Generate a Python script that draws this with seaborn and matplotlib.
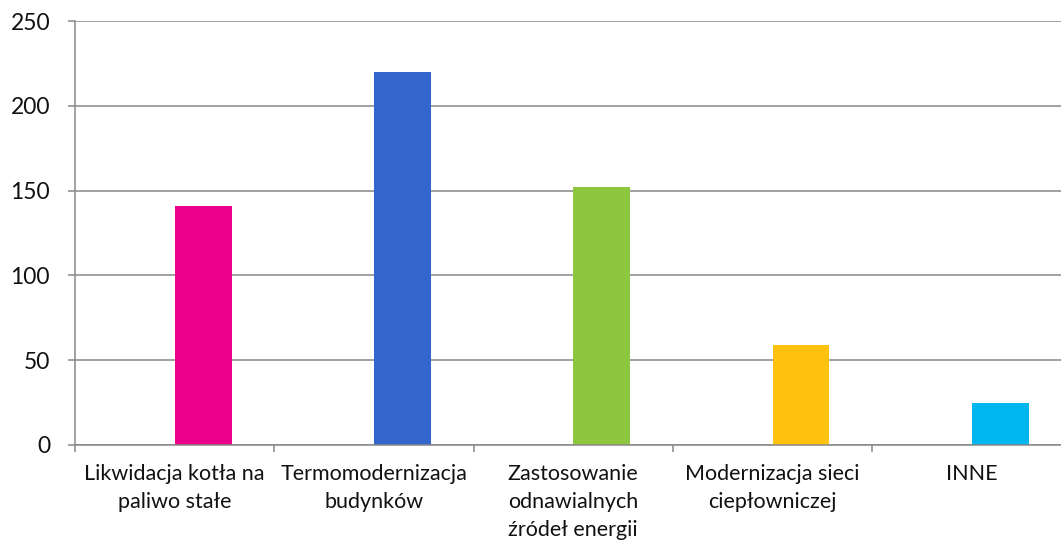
import matplotlib
matplotlib.use("Agg")
import matplotlib.pyplot as plt
import seaborn as sns
import pandas as pd
import numpy as np

categories = ["Likwidacja kotła na\npaliwo stałe", "Termomodernizacja\nbudynków",
              "Zastosowanie\nodnawialnych\nźródeł energii", "Modernizacja sieci\nciepłowniczej", "INNE"]
values = [141, 220, 152, 59, 25]
colors = ["#EC008C", "#3366CC", "#8DC63F", "#FFC20E", "#00B6EF"]
yticks = [0, 50, 100, 150, 200, 250]

sns.set_theme(style="white")
plt.rcParams['font.family'] = ['Lato', 'DejaVu Sans']

fig = plt.figure(figsize=(10.61, 5.46), dpi=100)
ax = fig.add_axes([0.0707, 0.185, 0.9392, 0.7765])

df = pd.DataFrame({"cat": categories, "val": values})
sns.barplot(data=df, x="cat", y="val", hue="cat", palette=colors, legend=False,
            width=2/7, saturation=1, ax=ax)
# shift bars to second slot of two-series layout
for p in ax.patches:
    p.set_x(p.get_x() + 1/7)
    p.set_linewidth(0)

grid_c = "#888888"
ax.set_ylim(0, 250)
ax.set_xlim(-0.5, 4.5)
ax.set_yticks(yticks)
ax.set_yticklabels([str(v) for v in yticks], fontsize=16.5, color="#111111")
ax.yaxis.grid(True, color=grid_c, linewidth=1.1)
ax.set_axisbelow(True)
ax.tick_params(axis="y", length=5, width=1.1, color=grid_c, pad=13, left=True)
ax.set_xticks(range(len(categories)))
ax.set_xticklabels(categories, fontsize=15.5, color="#111111", linespacing=1.5)
ax.tick_params(axis="x", length=0, pad=14)
ax.set_xticks(np.arange(-0.5, 4.6, 1.0), minor=True)
ax.tick_params(axis="x", which="minor", length=5, width=1.1, color=grid_c, bottom=True)
for t in ax.get_xticklabels():
    t.set_verticalalignment("top")
ax.set_xlabel("")
ax.set_ylabel("")
for s in ["top", "right"]:
    ax.spines[s].set_visible(False)
for s in ["left", "bottom"]:
    ax.spines[s].set_color(grid_c)
    ax.spines[s].set_linewidth(1.1)

fig.savefig("out.png", dpi=100)
